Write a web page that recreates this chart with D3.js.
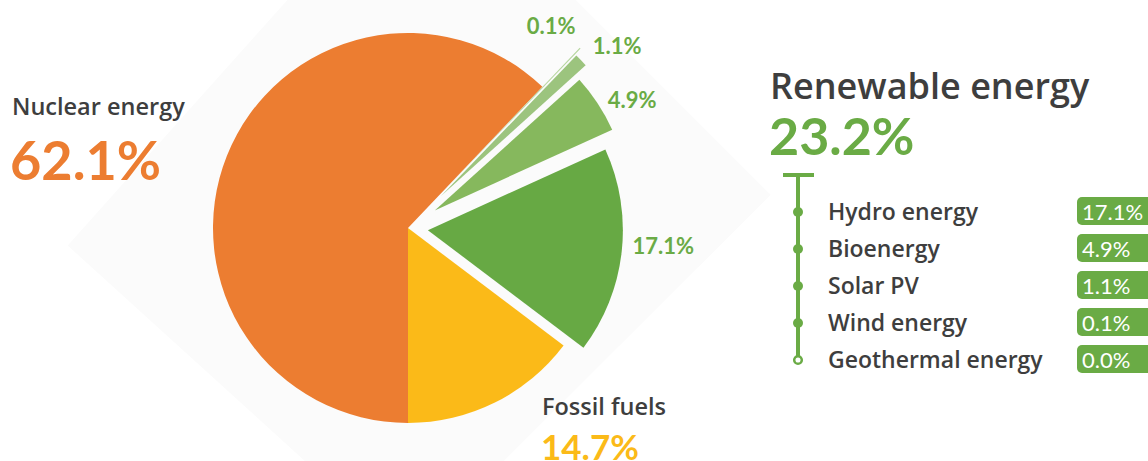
<!DOCTYPE html>
<html>
<head>
<meta charset="utf-8">
<script src="https://cdn.jsdelivr.net/npm/d3@7"></script>
<style>
  html, body { margin: 0; padding: 0; background: #ffffff; }
  svg { display: block; }
  text { font-family: "Lato", "Open Sans", sans-serif; }
  .lbl { font-family: "Open Sans", "Lato", sans-serif; }
</style>
</head>
<body>
<svg id="chart" width="1148" height="461"></svg>
<script>
// ---- data ----
const categories = ["Nuclear energy", "Fossil fuels", "Hydro energy", "Bioenergy", "Solar PV", "Wind energy", "Geothermal energy"];
const values = [62.1, 14.7, 17.1, 4.9, 1.1, 0.1, 0.0];
const renewableCategories = ["Hydro energy", "Bioenergy", "Solar PV", "Wind energy", "Geothermal energy"];
const renewableLabel = "Renewable energy";
const renewableTotal = 23.2;
const pieOrder = ["Nuclear energy", "Geothermal energy", "Wind energy", "Solar PV", "Bioenergy", "Hydro energy", "Fossil fuels"];

// ---- styles / layout (not data) ----
const colors = {
  "Nuclear energy": "#EC7D31",
  "Fossil fuels": "#FBBA18",
  "Hydro energy": "#67A944",
  "Bioenergy": "#86B85D",
  "Solar PV": "#9CC47E",
  "Wind energy": "#B4D59C",
  "Geothermal energy": "#C9E2B6"
};
const explode = { "Hydro energy": 20, "Bioenergy": 32, "Solar PV": 46, "Wind energy": 54, "Geothermal energy": 56 };
// label placement in polar coords relative to pie centre (radius px, angle deg clockwise from top)
const labelPolar = {
  "Hydro energy": [256, 94],
  "Bioenergy": [258, 60.3],
  "Solar PV": [277, 49],
  "Wind energy": [247, 35.4]
};
const green = "#6AAB45";
const dark = "#3E3E3E";

const svg = d3.select("#chart");
const cx = 408, cy = 228, R = 195;

// faint background diamond
const diamond = [[-1.745, 0.09], [0.08, -1.95], [1.86, -0.17], [0.005, 1.68]]
  .map(([a, b]) => [cx + a * R, cy + b * R]);
svg.append("polygon")
  .attr("points", diamond.map(p => p.join(",")).join(" "))
  .attr("fill", "#fbfbfb");

const data = categories.map((c, i) => ({ name: c, value: values[i] }));
const pie = d3.pie()
  .value(d => d.value)
  .sort((a, b) => pieOrder.indexOf(a.name) - pieOrder.indexOf(b.name))
  .startAngle(Math.PI)
  .endAngle(3 * Math.PI);
const arcs = pie(data);
const arc = d3.arc().innerRadius(0).outerRadius(R);

const g = svg.append("g").attr("transform", `translate(${cx},${cy})`);
g.selectAll("path.slice")
  .data(arcs.filter(d => d.value > 0))
  .join("path")
  .attr("class", "slice")
  .attr("fill", d => colors[d.data.name])
  .attr("d", arc)
  .attr("transform", d => {
    const off = explode[d.data.name] || 0;
    const m = (d.startAngle + d.endAngle) / 2;
    return `translate(${off * Math.sin(m)},${-off * Math.cos(m)})`;
  });

// small percentage labels next to renewable slices
const fmt = v => v.toFixed(1) + "%";
g.selectAll("text.plabel")
  .data(arcs.filter(d => labelPolar[d.data.name]))
  .join("text")
  .attr("class", "plabel")
  .attr("x", d => labelPolar[d.data.name][0] * Math.sin(labelPolar[d.data.name][1] * Math.PI / 180))
  .attr("y", d => -labelPolar[d.data.name][0] * Math.cos(labelPolar[d.data.name][1] * Math.PI / 180))
  .attr("dy", "0.35em")
  .attr("text-anchor", "middle")
  .attr("fill", green)
  .attr("font-size", 22)
  .attr("font-weight", 700)
  .text(d => fmt(d.data.value));

// Nuclear label
const nuc = data.find(d => d.name === "Nuclear energy");
svg.append("text").attr("class", "lbl").attr("x", 12).attr("y", 115)
  .attr("fill", dark).attr("font-size", 23.5).attr("font-weight", 600)
  .text(nuc.name);
svg.append("text").attr("x", 10).attr("y", 180)
  .attr("fill", colors["Nuclear energy"]).attr("font-size", 54).attr("font-weight", 700)
  .text(fmt(nuc.value));

// Fossil label
const fos = data.find(d => d.name === "Fossil fuels");
svg.append("text").attr("class", "lbl").attr("x", 542).attr("y", 415)
  .attr("fill", dark).attr("font-size", 23.5).attr("font-weight", 600)
  .text(fos.name);
svg.append("text").attr("x", 541).attr("y", 460)
  .attr("fill", colors["Fossil fuels"]).attr("font-size", 35).attr("font-weight", 700)
  .text(fmt(fos.value));

// Renewable heading
svg.append("text").attr("class", "lbl").attr("x", 770).attr("y", 99)
  .attr("fill", dark).attr("font-size", 36).attr("font-weight", 600)
  .text(renewableLabel);
svg.append("text").attr("x", 769).attr("y", 155)
  .attr("fill", green).attr("font-size", 52).attr("font-weight", 700)
  .text(fmt(renewableTotal));

// Legend
const ly = d3.scalePoint().domain(renewableCategories).range([212, 360]);
const lx = 798;
const leg = svg.append("g");
leg.append("line").attr("x1", lx).attr("x2", lx).attr("y1", 175).attr("y2", 360)
  .attr("stroke", green).attr("stroke-width", 4);
leg.append("line").attr("x1", 783).attr("x2", 814).attr("y1", 175).attr("y2", 175)
  .attr("stroke", green).attr("stroke-width", 4);
const rows = leg.selectAll("g.row")
  .data(renewableCategories)
  .join("g").attr("class", "row")
  .attr("transform", d => `translate(0,${ly(d)})`);
rows.append("circle")
  .attr("cx", lx).attr("cy", 0)
  .attr("r", (d, i) => i === renewableCategories.length - 1 ? 3.8 : 5)
  .attr("fill", (d, i) => i === renewableCategories.length - 1 ? "#ffffff" : green)
  .attr("stroke", green)
  .attr("stroke-width", (d, i) => i === renewableCategories.length - 1 ? 2.5 : 0);
rows.append("text")
  .attr("class", "lbl")
  .attr("x", 828).attr("y", 8)
  .attr("fill", dark).attr("font-size", 23).attr("font-weight", 600)
  .text(d => d);
rows.append("rect")
  .attr("x", 1077).attr("y", -15).attr("width", 90).attr("height", 28).attr("rx", 5)
  .attr("fill", green);
rows.append("text")
  .attr("x", 1082).attr("y", 8)
  .attr("fill", "#ffffff").attr("font-size", 22).attr("font-weight", 400)
  .text(d => fmt(values[categories.indexOf(d)]));
</script>
</body>
</html>
